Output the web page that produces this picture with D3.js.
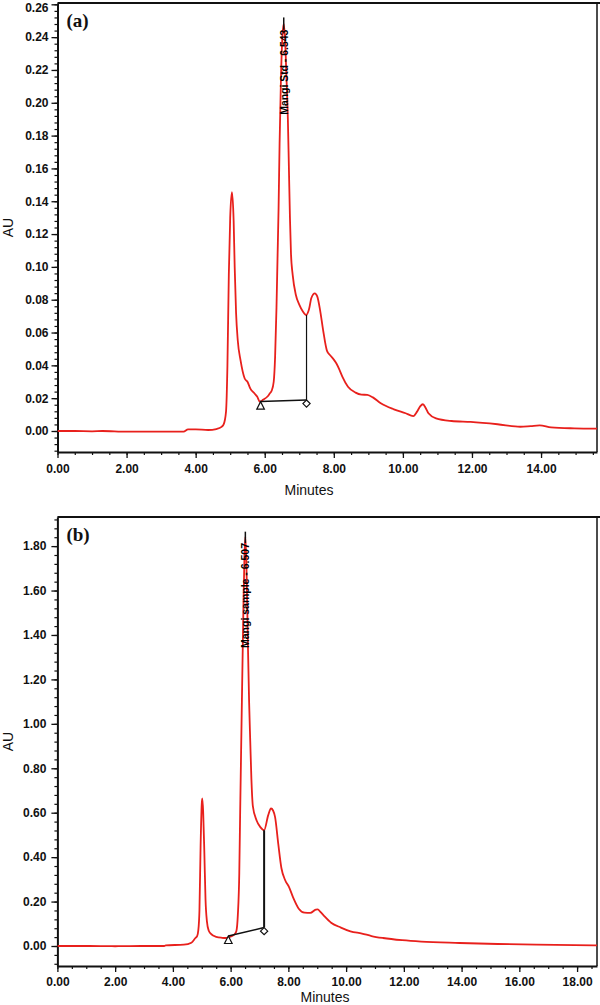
<!DOCTYPE html>
<html>
<head>
<meta charset="utf-8">
<script src="https://cdn.jsdelivr.net/npm/d3@7"></script>
<style>
html,body{margin:0;padding:0;background:#fff;}
svg{display:block;}
</style>
</head>
<body>
<svg id="chart" width="600" height="1005"></svg>
<script>
// ---------- data: panel (a) ----------
const timeA = [0.00,0.50,1.00,1.30,2.00,3.00,3.65,3.78,4.00,4.36,4.60,4.75,4.81,4.88,4.92,4.96,5.00,5.05,5.10,5.13,5.17,5.22,5.30,5.42,5.50,5.58,5.70,5.78,5.86,5.95,6.08,6.15,6.20,6.26,6.30,6.34,6.37,6.40,6.43,6.47,6.51,6.55,6.59,6.63,6.67,6.70,6.73,6.76,6.81,6.90,7.00,7.10,7.20,7.28,7.35,7.45,7.52,7.60,7.69,7.80,7.90,8.00,8.08,8.17,8.25,8.41,8.63,8.80,8.97,9.13,9.36,9.74,10.08,10.30,10.41,10.50,10.58,10.66,10.74,10.96,11.41,11.96,12.74,13.40,13.70,13.96,14.29,14.96,15.62];
const auA   = [0.0000,0.0000,-0.0002,0.0000,-0.0004,-0.0004,-0.0004,0.0010,0.0010,0.0006,0.0012,0.0025,0.0040,0.0120,0.0400,0.0950,0.1300,0.1455,0.1280,0.1000,0.0720,0.0550,0.0430,0.0320,0.0300,0.0260,0.0230,0.0210,0.0178,0.0190,0.0210,0.0230,0.0245,0.0300,0.0450,0.0750,0.1050,0.1350,0.1750,0.2150,0.2400,0.2480,0.2380,0.2150,0.1900,0.1600,0.1300,0.1080,0.0950,0.0830,0.0770,0.0730,0.0707,0.0740,0.0810,0.0839,0.0820,0.0740,0.0615,0.0490,0.0460,0.0435,0.0410,0.0370,0.0330,0.0270,0.0234,0.0222,0.0220,0.0205,0.0169,0.0132,0.0108,0.0091,0.0118,0.0150,0.0163,0.0140,0.0108,0.0077,0.0061,0.0055,0.0041,0.0026,0.0030,0.0034,0.0022,0.0016,0.0014];
const peakA = {time: 6.55, top: 0.252, labelEnd: 0.2445, label: "Mangi Std - 6.543"};
const baseA = [[5.88, 0.0179], [7.21, 0.0189]];
const dropA = [7.21, 0.0707];
const yTicksA = [0.00,0.02,0.04,0.06,0.08,0.10,0.12,0.14,0.16,0.18,0.20,0.22,0.24,0.26];
const xTicksA = [0,2,4,6,8,10,12,14];

// ---------- data: panel (b) ----------
const timeB = [0.00,1.00,2.00,3.00,3.70,3.75,4.38,4.64,4.78,4.84,4.88,4.92,4.96,5.00,5.02,5.05,5.09,5.13,5.18,5.24,5.31,5.50,5.70,5.84,5.93,6.05,6.13,6.20,6.25,6.30,6.33,6.36,6.39,6.44,6.48,6.51,6.55,6.60,6.64,6.68,6.72,6.77,6.90,7.03,7.16,7.30,7.40,7.47,7.54,7.65,7.76,7.89,8.02,8.16,8.36,8.56,8.76,8.95,9.02,9.10,9.22,9.48,9.82,10.15,10.55,10.88,11.28,11.94,12.60,13.93,15.25,16.58,18.69];
const auB   = [0.000,0.000,-0.001,0.000,0.000,0.003,0.006,0.015,0.036,0.044,0.070,0.160,0.450,0.640,0.664,0.600,0.420,0.210,0.110,0.070,0.056,0.041,0.037,0.036,0.040,0.045,0.052,0.068,0.140,0.330,0.600,0.850,1.100,1.500,1.760,1.842,1.700,1.350,1.100,0.920,0.750,0.630,0.565,0.535,0.521,0.588,0.619,0.610,0.580,0.460,0.350,0.296,0.266,0.220,0.168,0.150,0.149,0.164,0.165,0.155,0.138,0.105,0.083,0.066,0.056,0.045,0.036,0.026,0.0195,0.0135,0.009,0.006,0.003];
const peakB = {time: 6.51, top: 1.865, labelEnd: 1.814, label: "Mangi sample - 6.507"};
const baseB = [[5.92, 0.045], [7.16, 0.083]];
const dropB = [7.16, 0.521];
const yTicksB = [0.00,0.20,0.40,0.60,0.80,1.00,1.20,1.40,1.60,1.80];
const xTicksB = [0,2,4,6,8,10,12,14,16,18];

const svg = d3.select("#chart");
const fmt = d3.format(".2f");
const RED = "#e8201c";

function panel(o) {
  const g = svg.append("g");
  const x = d3.scaleLinear().domain(o.xDomain).range([o.left, o.right]);
  const y = d3.scaleLinear().domain(o.yDomain).range([o.bottom, o.top]);

  const cid = "clip" + o.id;
  svg.append("clipPath").attr("id", cid).append("rect")
    .attr("x", o.left).attr("y", o.top).attr("width", o.right - o.left + 3).attr("height", o.bottom - o.top);

  // frame (top + right)
  g.append("line").attr("x1", o.left).attr("x2", 600).attr("y1", o.top).attr("y2", o.top)
    .attr("stroke", "#111").attr("stroke-width", 2);
  g.append("line").attr("x1", o.right).attr("x2", o.right).attr("y1", o.top).attr("y2", o.bottom)
    .attr("stroke", "#111").attr("stroke-width", 1.5);

  // minor ticks
  const xMinor = d3.range(0, o.xDomain[1] + 1e-9, 0.5);
  const yMinor = d3.range(Math.ceil(o.yDomain[0] / o.yMinor) * o.yMinor, o.yDomain[1] + 1e-9, o.yMinor);

  const xAxisMinor = d3.axisBottom(x).tickValues(xMinor).tickSize(3).tickFormat("");
  g.append("g").attr("transform", `translate(0,${o.bottom})`).call(xAxisMinor)
    .call(s => s.select(".domain").remove())
    .call(s => s.selectAll("line").attr("stroke", "#111").attr("stroke-width", 1.2));
  const yAxisMinor = d3.axisLeft(y).tickValues(yMinor).tickSize(3).tickFormat("");
  g.append("g").attr("transform", `translate(${o.left},0)`).call(yAxisMinor)
    .call(s => s.select(".domain").remove())
    .call(s => s.selectAll("line").attr("stroke", "#111").attr("stroke-width", 1.2));

  // major axes
  const xAxis = d3.axisBottom(x).tickValues(o.xTicks).tickSize(6).tickSizeOuter(0)
    .tickPadding(o.xPad).tickFormat(fmt);
  g.append("g").attr("transform", `translate(0,${o.bottom})`).call(xAxis)
    .call(s => s.select(".domain").attr("stroke", "#111").attr("stroke-width", 2))
    .call(s => s.selectAll("line").attr("stroke", "#111").attr("stroke-width", 1.3))
    .call(s => s.selectAll("text").attr("font-family", "'Liberation Sans', Arial, sans-serif")
      .attr("font-size", 12).attr("font-weight", "bold").attr("fill", "#111"));
  const yAxis = d3.axisLeft(y).tickValues(o.yTicks).tickSize(6).tickSizeOuter(0)
    .tickPadding(o.yPad).tickFormat(fmt);
  g.append("g").attr("transform", `translate(${o.left},0)`).call(yAxis)
    .call(s => s.select(".domain").attr("stroke", "#111").attr("stroke-width", 2))
    .call(s => s.selectAll("line").attr("stroke", "#111").attr("stroke-width", 1.3))
    .call(s => s.selectAll("text").attr("font-family", "'Liberation Sans', Arial, sans-serif")
      .attr("font-size", 12).attr("font-weight", "bold").attr("fill", "#111")
      .attr("dy", function() { const v = d3.select(this).datum(); return y(v) - 6 < 0 ? "0.62em" : "0.32em"; }));

  // axis titles
  g.append("text").attr("x", o.minutesX).attr("y", o.minutesY)
    .attr("text-anchor", "middle").attr("font-family", "'Liberation Sans', Arial, sans-serif")
    .attr("font-size", 14).attr("fill", "#111").text("Minutes");
  g.append("text").attr("transform", `translate(13,${(o.top + o.bottom) / 2}) rotate(-90)`)
    .attr("text-anchor", "middle").attr("font-family", "'Liberation Sans', Arial, sans-serif")
    .attr("font-size", 14).attr("fill", "#111").text("AU");

  // panel letter
  g.append("text").attr("x", o.left + 9).attr("y", o.top + 24)
    .attr("font-family", "'Liberation Serif', 'Times New Roman', serif")
    .attr("font-size", 19).attr("font-weight", "bold").attr("fill", "#111").text(o.letter);

  // trace
  const line = d3.line().x(d => x(d[0])).y(d => y(d[1])).curve(d3.curveMonotoneX);
  const pts = o.t.map((t, i) => [t, o.v[i]]);
  g.append("path").datum(pts).attr("clip-path", `url(#${cid})`)
    .attr("d", line).attr("fill", "none").attr("stroke", RED).attr("stroke-width", 1.8)
    .attr("stroke-linejoin", "round");

  // baseline + drop line
  g.append("line").attr("x1", x(o.base[0][0])).attr("y1", y(o.base[0][1]))
    .attr("x2", x(o.base[1][0])).attr("y2", y(o.base[1][1]))
    .attr("stroke", "#111").attr("stroke-width", 1.5);
  g.append("line").attr("x1", x(o.drop[0])).attr("y1", y(o.base[1][1]))
    .attr("x2", x(o.drop[0])).attr("y2", y(o.drop[1]))
    .attr("stroke", "#111").attr("stroke-width", o.dropW);
  // triangle (apex at baseline start)
  const tx = x(o.base[0][0]), ty = y(o.base[0][1]);
  g.append("path").attr("d", `M${tx},${ty} L${tx - 3.8},${ty + 7.5} L${tx + 3.8},${ty + 7.5} Z`)
    .attr("fill", "#fff").attr("stroke", "#111").attr("stroke-width", 1.2);
  // diamond (top vertex at baseline end)
  const dx = x(o.base[1][0]), dy = y(o.base[1][1]);
  g.append("path").attr("d", `M${dx},${dy} L${dx + 3.6},${dy + 3.6} L${dx},${dy + 7.2} L${dx - 3.6},${dy + 3.6} Z`)
    .attr("fill", "#fff").attr("stroke", "#111").attr("stroke-width", 1.2);

  // peak marker + label
  g.append("line").attr("x1", x(o.peak.time)).attr("x2", x(o.peak.time))
    .attr("y1", y(o.peak.top)).attr("y2", y(o.peak.labelEnd))
    .attr("stroke", "#111").attr("stroke-width", 1.5);
  g.append("text")
    .attr("transform", `translate(${x(o.peak.time)},${y(o.peak.labelEnd)}) rotate(-90)`)
    .attr("text-anchor", "end").attr("dy", "0.36em")
    .attr("textLength", o.labelLen).attr("lengthAdjust", "spacingAndGlyphs")
    .attr("font-family", "'Liberation Sans', Arial, sans-serif").attr("font-size", 11)
    .attr("font-weight", "bold").attr("fill", "#000").text(o.peak.label);
}

panel({
  id: "A", letter: "(a)",
  left: 57.5, right: 597, top: 3, bottom: 452,
  xDomain: [0, 15.62], yDomain: [-0.0128, 0.2608],
  xTicks: xTicksA, yTicks: yTicksA, yMinor: 0.004,
  xPad: 6, yPad: 3, minutesX: 309, minutesY: 495, labelLen: 85,
  t: timeA, v: auA, peak: peakA, base: baseA, drop: dropA, dropW: 1.2
});

panel({
  id: "B", letter: "(b)",
  left: 57.4, right: 597, top: 517, bottom: 966,
  xDomain: [0, 18.69], yDomain: [-0.09, 1.931],
  xTicks: xTicksB, yTicks: yTicksB, yMinor: 0.04,
  xPad: 5, yPad: 5, minutesX: 325, minutesY: 1002, labelLen: 105,
  t: timeB, v: auB, peak: peakB, base: baseB, drop: dropB, dropW: 2
});
</script>
</body>
</html>
